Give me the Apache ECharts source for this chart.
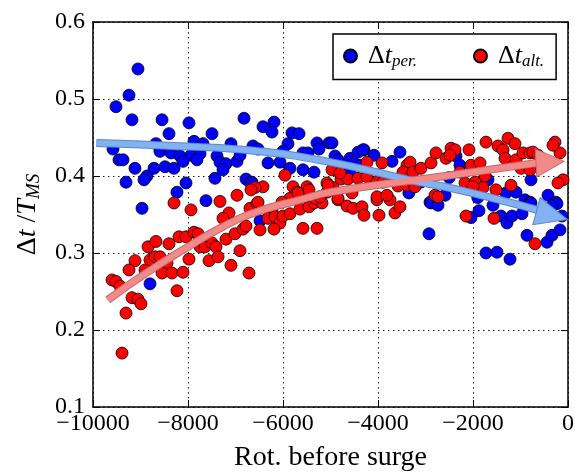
<!DOCTYPE html>
<html><head><meta charset="utf-8">
<script src="https://cdn.jsdelivr.net/npm/echarts@6/dist/echarts.min.js"></script>
<style>html,body{margin:0;padding:0;background:#fff;}#c{width:575px;height:473px;}</style>
</head><body><div id="c"></div>
<script>
const xTicks = [-10000, -8000, -6000, -4000, -2000, 0];
const yTicks = [0.1, 0.2, 0.3, 0.4, 0.5, 0.6];
const bluePoints = [
[-9053,0.539],[-9242,0.505],[-9516,0.490],[-9179,0.473],[-8547,0.473],[-7979,0.469],[-6821,0.475],[-8400,0.455],[-7495,0.455],[-7874,0.445],[-7684,0.442],[-8674,0.442],[-7095,0.442],[-9579,0.435],[-8590,0.432],[-8358,0.430],[-8168,0.426],[-7937,0.427],[-7747,0.429],[-8105,0.419],[-7811,0.421],[-7389,0.426],[-7326,0.418],[-7200,0.416],[-6968,0.419],[-6905,0.427],[-9453,0.421],[-9368,0.421],[-9116,0.410],[-8716,0.410],[-8484,0.412],[-8295,0.410],[-7263,0.408],[-8863,0.400],[-8926,0.395],[-9305,0.392],[-7432,0.397],[-8042,0.391],[-8232,0.379],[-6779,0.396],[-6695,0.392],[-7621,0.368],[-8968,0.358],[-8800,0.260],[-6484,0.342],
[-6189,0.470],[-6421,0.464],[-6232,0.457],[-5811,0.456],[-5663,0.455],[-5032,0.443],[-5284,0.443],[-5242,0.435],[-5895,0.442],[-6000,0.432],[-6632,0.439],[-6526,0.435],[-6316,0.417],[-6063,0.418],[-5579,0.430],[-5474,0.430],[-5579,0.408],[-5347,0.405],[-4905,0.426],[-4842,0.421],[-4589,0.423],[-4421,0.431],[-4295,0.434],[-4084,0.427],[-3537,0.431],[-3705,0.419],[-4526,0.418],[-4379,0.414],[-5853,0.410],[-6653,0.392],[-4589,0.408],[-3600,0.391],[-3789,0.397],[-4968,0.443],[-4316,0.434],
[-2358,0.426],[-2274,0.414],[-779,0.395],[-1684,0.395],[-2905,0.366],[-2589,0.375],[-1305,0.378],[-1095,0.379],[-905,0.369],[-800,0.366],[-421,0.375],[-253,0.366],[-3100,0.392],[-2500,0.398],[-1900,0.372],[-3350,0.378],
[-2926,0.325],[-1874,0.355],[-2042,0.346],[-1411,0.348],[-1284,0.339],[-1179,0.348],[-968,0.351],[-863,0.323],[-442,0.314],[-337,0.323],[-168,0.330],[-126,0.348],[-1726,0.300],[-1495,0.301],[-1221,0.292],[-232,0.364],[-337,0.361],[-2884,0.365],[-2737,0.362],[-779,0.365],[-1579,0.362]
];
const redPoints = [
[-8295,0.365],[-7937,0.356],[-7326,0.367],[-7137,0.352],[-7263,0.345],[-6695,0.358],[-8842,0.308],[-8674,0.315],[-8400,0.312],[-8189,0.321],[-8042,0.321],[-7874,0.327],[-7789,0.325],[-9116,0.290],[-9242,0.278],[-8905,0.278],[-8800,0.291],[-8695,0.295],[-8590,0.295],[-8442,0.287],[-8547,0.274],[-8337,0.274],[-8105,0.275],[-7979,0.292],[-9600,0.265],[-9516,0.263],[-9432,0.257],[-9179,0.242],[-9053,0.240],[-8990,0.234],[-9305,0.222],[-9389,0.170],[-8232,0.251],[-7747,0.308],[-7642,0.308],[-7558,0.290],[-7495,0.313],[-7411,0.308],[-7368,0.295],[-7200,0.318],[-7011,0.325],[-6842,0.331],[-6779,0.335],[-6905,0.303],[-7095,0.284],[-6716,0.274],
[-6547,0.364],[-6232,0.355],[-6316,0.345],[-6168,0.347],[-6063,0.339],[-6000,0.348],[-5853,0.351],[-6189,0.331],[-6484,0.330],[-5642,0.357],[-5453,0.360],[-5347,0.365],[-5179,0.365],[-5579,0.332],[-5284,0.332],[-4842,0.369],[-4653,0.361],[-4526,0.358],[-4337,0.360],[-4295,0.349],[-3979,0.349],[-3642,0.352],[-3537,0.360],[-4021,0.369],[-3747,0.369],
[-5958,0.401],[-6421,0.386],[-6589,0.385],[-5789,0.386],[-5495,0.386],[-5705,0.379],[-5074,0.391],[-4947,0.385],[-4779,0.396],[-4632,0.396],[-4421,0.397],[-4232,0.418],[-3916,0.417],[-4232,0.399],[-4021,0.392],[-3895,0.392],[-3389,0.414],[-3474,0.405],[-4968,0.408],[-4800,0.404],[-5074,0.379],[-4842,0.371],[-4547,0.378],[-4021,0.373],[-3811,0.375],[-5326,0.371],[-5579,0.373],[-5853,0.371],[-6021,0.366],[-6526,0.366],[-3579,0.387],[-3389,0.388],
[-3326,0.418],[-3263,0.405],[-3095,0.410],[-2884,0.417],[-2779,0.430],[-2568,0.423],[-2463,0.436],[-2379,0.434],[-2484,0.427],[-2084,0.434],[-2274,0.405],[-2042,0.414],[-1853,0.417],[-1726,0.444],[-1474,0.439],[-1368,0.434],[-1263,0.449],[-1116,0.442],[-1326,0.423],[-1095,0.421],[-947,0.430],[-800,0.430],[-737,0.431],[-632,0.427],[-989,0.410],[-800,0.408],[-274,0.444],[-168,0.430],[-316,0.440],[-105,0.395],[-211,0.391],[-1747,0.400],[-1516,0.382],[-1200,0.388],[-3221,0.386],[-2800,0.375],[-2737,0.373],[-2168,0.391],[-1958,0.392],[-1789,0.385],[-2000,0.386],
[-2147,0.348],[-1558,0.345],[-695,0.312],[-6968,0.375],[-6674,0.382],[-5684,0.378],[-5453,0.382],[-5221,0.373],[-5053,0.388]
];
// trend arrows
const blueTrend = [[-9930,0.443],[-8300,0.439],[-6650,0.433],[-5000,0.418],[-3350,0.395],[-2300,0.382],[-1200,0.365],[-650,0.356]];
const blueHead = [[-337,0.349]];
const redTrend = [[-9690,0.239],[-8880,0.274],[-8000,0.308],[-7330,0.332],[-6630,0.352],[-5640,0.369],[-5010,0.379],[-2700,0.399],[-650,0.417]];
const redHead = [[-379,0.418]];

const serif = 'Liberation Serif';
const tri = 'path://M0,0L30,14L0,28Z';
const chart = echarts.init(document.getElementById('c'), null, {renderer:'canvas'});
const axisCommon = {
  axisLine:{show:true, onZero:false, lineStyle:{color:'#000', width:1.5}},
  axisTick:{show:true, inside:true, length:7, lineStyle:{color:'#000', width:1}},
};
function mathRich(size, sub, drop){
  return {
    g:{width:6},
    d:{fontFamily:serif, fontSize:size, color:'#000'},
    i:{fontFamily:serif, fontStyle:'italic', fontSize:size, color:'#000'},
    n:{fontFamily:serif, fontSize:size, color:'#000'},
    s:{fontFamily:serif, fontStyle:'italic', fontSize:sub, color:'#000', verticalAlign:'bottom', padding:[drop,0,0,0]}
  };
}
const option = {
  backgroundColor:'#fff',
  animation:false,
  grid:{left:93, right:7, top:22, bottom:66, containLabel:false, outerBoundsMode:'none'},
  legend:{
    data:['Δt per.','Δt alt.'], left:333, top:34,
    orient:'horizontal', itemGap:56, itemWidth:13, itemHeight:13, icon:'circle',
    borderColor:'#000', borderWidth:1.5, backgroundColor:'#fff', padding:[9,12,9,10],
    formatter: function(n){ return n==='Δt per.' ? '{g|}{d|Δ}{i|t}{s|per.}' : '{g|}{d|Δ}{i|t}{s|alt.}'; },
    textStyle:{fontFamily:serif, fontSize:26, color:'#000', rich:mathRich(26,17,12)}
  },
  xAxis:[
    Object.assign({}, axisCommon, {type:'value', position:'bottom', min:xTicks[0], max:xTicks[xTicks.length-1], interval:2000,
      name:'Rot. before surge', nameLocation:'middle', nameGap:37,
      nameTextStyle:{fontFamily:serif, fontSize:28, color:'#000'},
      axisLabel:{show:true, margin:5, fontFamily:serif, fontSize:24, color:'#000',
        formatter:v=> v<0 ? '\u2212'+Math.abs(v) : String(v)},
      splitLine:{show:true, lineStyle:{color:'#222', type:[1.5,3.5], width:1}}}),
    Object.assign({}, axisCommon, {type:'value', position:'top', min:xTicks[0], max:xTicks[xTicks.length-1], interval:2000,
      axisLabel:{show:false}, splitLine:{show:false}})
  ],
  yAxis:[
    Object.assign({}, axisCommon, {type:'value', position:'left', min:yTicks[0], max:yTicks[yTicks.length-1], interval:0.1,
      name:'{d|Δ}{i|t}{n| /}{i|T}{s|MS}', nameLocation:'middle', nameGap:50, nameRotate:90,
      nameTextStyle:{fontFamily:serif, fontSize:28, color:'#000', rich:mathRich(28,19,12)},
      axisLabel:{show:true, margin:8, fontFamily:serif, fontSize:24, color:'#000', formatter:v=>v.toFixed(1)},
      splitLine:{show:true, lineStyle:{color:'#222', type:[1.5,3.5], width:1}}}),
    Object.assign({}, axisCommon, {type:'value', position:'right', min:yTicks[0], max:yTicks[yTicks.length-1], interval:0.1,
      axisLabel:{show:false}, splitLine:{show:false}})
  ],
  series:[
    {name:'Δt per.', type:'scatter', data:bluePoints, symbol:'circle', symbolSize:12,
      itemStyle:{color:'#0000ff', borderColor:'#000', borderWidth:0.8, opacity:1}, z:2},
    {name:'Δt alt.', type:'scatter', data:redPoints, symbol:'circle', symbolSize:12,
      itemStyle:{color:'#ff0000', borderColor:'#000', borderWidth:0.8, opacity:1}, z:3},
    {type:'line', data:blueTrend, smooth:0.5, symbol:'none', lineStyle:{color:'#5a86c8', width:8}, z:4, silent:true},
    {type:'line', data:blueTrend, smooth:0.5, symbol:'none', lineStyle:{color:'#82b2f2', width:6}, z:5, silent:true},
    {type:'scatter', data:blueHead, symbol:tri, symbolSize:[32,28], symbolRotate:-15,
      itemStyle:{color:'#82b2f2', borderColor:'#5a86c8', borderWidth:1, opacity:1}, z:5, silent:true},
    {type:'line', data:redTrend, smooth:0.5, symbol:'none', lineStyle:{color:'#c06a6a', width:8}, z:4, silent:true},
    {type:'line', data:redTrend, smooth:0.5, symbol:'none', lineStyle:{color:'#f28a8a', width:6}, z:5, silent:true},
    {type:'scatter', data:redHead, symbol:tri, symbolSize:[28,28], symbolRotate:3,
      itemStyle:{color:'#f28a8a', borderColor:'#c06a6a', borderWidth:1, opacity:1}, z:5, silent:true}
  ]
};
chart.setOption(option);
</script></body></html>
